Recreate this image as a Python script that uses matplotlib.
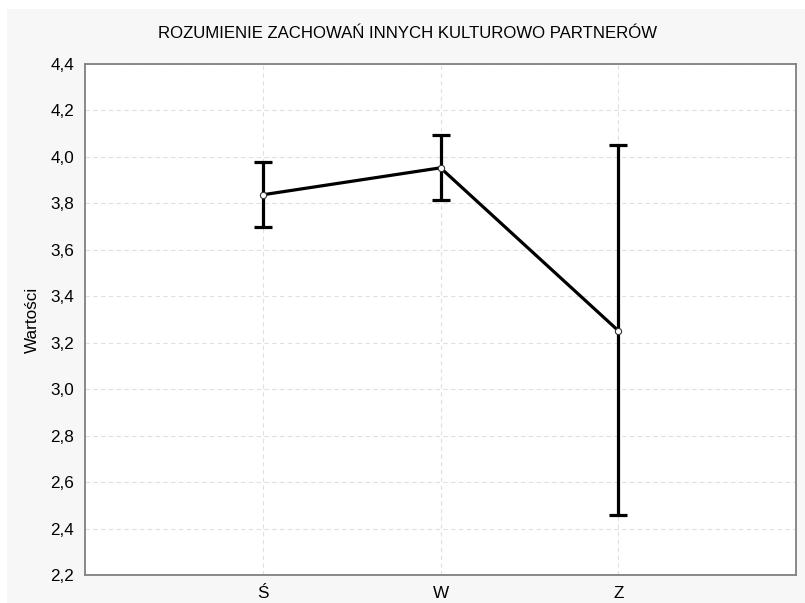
import numpy as np
import matplotlib.pyplot as plt
from matplotlib.patches import Rectangle

# dane
kategorie = ['Ś', 'W', 'Z']
srednie = [3.837, 3.953, 3.252]
gorne = [3.980, 4.095, 4.052]
dolne = [3.697, 3.813, 2.460]
yticks = [2.2, 2.4, 2.6, 2.8, 3.0, 3.2, 3.4, 3.6, 3.8, 4.0, 4.2, 4.4]

plt.rcParams['font.family'] = ['Liberation Sans Narrow', 'Liberation Sans', 'DejaVu Sans']

fig = plt.figure(figsize=(8.05, 6.03), dpi=100, facecolor='white')
# szare tło jak w oryginale
fig.patches.append(Rectangle((7 / 805, 0), 1, (603 - 9) / 603, transform=fig.transFigure,
                             facecolor='#f7f7f7', edgecolor='none', zorder=-10))

ax = fig.add_axes([85 / 805, (603 - 575) / 603, (796 - 85) / 805, (575 - 64) / 603])
ax.set_facecolor('white')

x = np.arange(1, len(kategorie) + 1)
sr = np.array(srednie)
yerr = [sr - np.array(dolne), np.array(gorne) - sr]

ax.errorbar(x, sr, yerr=yerr, fmt='none', ecolor='black', elinewidth=2.3,
            capsize=6.5, capthick=2.3, zorder=3)
ax.plot(x, sr, color='black', lw=2.3, zorder=4)
ax.plot(x, sr, 'o', ms=4.5, mfc='white', mec='#333333', mew=0.8, zorder=5)

ax.set_xlim(0, 4)
ax.set_ylim(2.2, 4.4)
ax.set_xticks(x)
ax.set_xticklabels(kategorie, fontsize=12.3)
ax.set_yticks(yticks)
ax.set_yticklabels([('%.1f' % v).replace('.', ',') for v in yticks], fontsize=12.3)
ax.tick_params(length=0, pad=8)
ax.grid(True, linestyle=(0, (4, 3)), color='#e0e0e0', lw=0.8)
ax.set_axisbelow(True)
for s in ax.spines.values():
    s.set_color('#808080')
    s.set_linewidth(1.3)

ax.set_ylabel('Wartości', fontsize=12.3, labelpad=7)
fig.text(0.5 + 5 / 805, 1 - 33 / 603, 'ROZUMIENIE ZACHOWAŃ INNYCH KULTUROWO PARTNERÓW',
         ha='center', va='center', fontsize=12.1)

fig.savefig('out.png', dpi=100, facecolor=fig.get_facecolor())
